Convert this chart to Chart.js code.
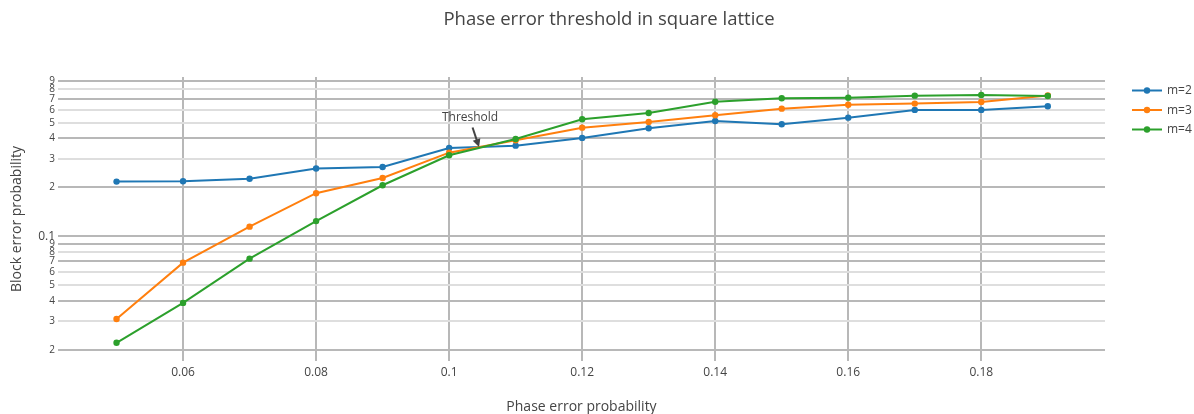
<!DOCTYPE html>
<html>
<head>
<meta charset="utf-8">
<script src="https://cdn.jsdelivr.net/npm/chart.js@4/dist/chart.umd.min.js"></script>
<style>
html,body{margin:0;padding:0;background:#fff;}
canvas{display:block;}
</style>
</head>
<body>
<canvas id="c" width="1194" height="414"></canvas>
<script>
// ---- data ----
const categories = [0.05,0.06,0.07,0.08,0.09,0.10,0.11,0.12,0.13,0.14,0.15,0.16,0.17,0.18,0.19];
const seriesNames = ['m=2','m=3','m=4'];
const m2 = [0.217,0.218,0.226,0.261,0.267,0.349,0.361,0.403,0.462,0.512,0.489,0.537,0.599,0.599,0.631];
const m3 = [0.0310,0.0688,0.1146,0.184,0.2285,0.327,0.390,0.466,0.505,0.556,0.610,0.645,0.655,0.671,0.735];
const m4 = [0.0221,0.0389,0.0728,0.124,0.206,0.315,0.397,0.525,0.574,0.672,0.707,0.713,0.733,0.741,0.730];
const xTicks = [0.06,0.08,0.10,0.12,0.14,0.16,0.18];
const yTicks = [0.02,0.03,0.04,0.05,0.06,0.07,0.08,0.09,0.1,0.2,0.3,0.4,0.5,0.6,0.7,0.8,0.9];
const yTickLabels = ['2','3','4','5','6','7','8','9','0.1','2','3','4','5','6','7','8','9'];
const titleText = 'Phase error threshold in square lattice';
const xTitle = 'Phase error probability';
const yTitle = 'Block error probability';
const annotationText = 'Threshold';
const annotationPoint = {x: 0.1045, y: 0.354};

const XMIN = 0.0412, XMAX = 0.1986;
const YMIN = 0.01708, YMAX = 0.955;

const colors = ['#1f77b4','#ff7f0e','#2ca02c'];
const FONT = '"Open Sans", "DejaVu Sans", sans-serif';
const darkGrid = new Set([0.02,0.04,0.07,0.09,0.1,0.2,0.4,0.7,0.9]);

const allSeries = [m2, m3, m4];
const datasets = allSeries.map((s, i) => ({
  label: seriesNames[i],
  data: categories.map((x, j) => ({x: x, y: s[j]})),
  borderColor: colors[i],
  backgroundColor: colors[i],
  borderWidth: 2,
  pointRadius: 3.2,
  pointHoverRadius: 3.2,
  pointBorderWidth: 0,
  tension: 0,
  order: 3 - i
}));

const overlay = {
  id: 'overlay',
  afterDraw(chart) {
    const ctx = chart.ctx;
    const ca = chart.chartArea;
    const xs = chart.scales.x, ys = chart.scales.y;
    ctx.save();
    // title
    ctx.fillStyle = '#444';
    ctx.font = '18.5px ' + FONT;
    ctx.textAlign = 'center';
    ctx.textBaseline = 'middle';
    ctx.fillText(titleText, 609, 20);
    // x title
    ctx.font = '14px ' + FONT;
    ctx.fillText(xTitle, (ca.left + ca.right) / 2, 407);
    // y title
    ctx.save();
    ctx.translate(17, (ca.top + ca.bottom) / 2);
    ctx.rotate(-Math.PI / 2);
    ctx.fillText(yTitle, 0, 0);
    ctx.restore();
    // legend
    ctx.font = '12px ' + FONT;
    ctx.textAlign = 'left';
    seriesNames.forEach((n, i) => {
      const y = 90.5 + i * 19.5;
      ctx.strokeStyle = colors[i];
      ctx.lineWidth = 2;
      ctx.beginPath();
      ctx.moveTo(1132, y);
      ctx.lineTo(1162, y);
      ctx.stroke();
      ctx.fillStyle = colors[i];
      ctx.beginPath();
      ctx.arc(1147, y, 3.2, 0, Math.PI * 2);
      ctx.fill();
      ctx.fillStyle = '#444';
      ctx.fillText(n, 1167, y + 0.5);
    });
    // annotation
    const hx = xs.getPixelForValue(annotationPoint.x);
    const hy = ys.getPixelForValue(annotationPoint.y);
    const tx = hx - 6.5, ty = hy - 19.5;
    ctx.fillStyle = '#444';
    ctx.textAlign = 'center';
    ctx.font = '12px ' + FONT;
    ctx.fillText(annotationText, hx - 9, hy - 29);
    const ang = Math.atan2(hy - ty, hx - tx);
    const L = 8, W = 4;
    const bx = hx - L * Math.cos(ang), by = hy - L * Math.sin(ang);
    ctx.strokeStyle = '#444';
    ctx.lineWidth = 2;
    ctx.beginPath();
    ctx.moveTo(tx, ty);
    ctx.lineTo(bx + 2 * Math.cos(ang), by + 2 * Math.sin(ang));
    ctx.stroke();
    ctx.beginPath();
    ctx.moveTo(hx, hy);
    ctx.lineTo(bx + W * Math.sin(ang), by - W * Math.cos(ang));
    ctx.lineTo(bx - W * Math.sin(ang), by + W * Math.cos(ang));
    ctx.closePath();
    ctx.fill();
    ctx.restore();
  }
};

new Chart(document.getElementById('c'), {
  type: 'line',
  data: {datasets: datasets},
  options: {
    responsive: false,
    animation: false,
    devicePixelRatio: 1,
    layout: {padding: {left: 0, top: 77, right: 89, bottom: 0}},
    plugins: {legend: {display: false}, title: {display: false}, tooltip: {enabled: false}},
    scales: {
      x: {
        type: 'linear',
        min: XMIN,
        max: XMAX,
        afterBuildTicks: s => { s.ticks = xTicks.map(v => ({value: v})); },
        afterFit: s => { s.height = 53; },
        grid: {color: '#b8b8b8', lineWidth: 2, drawTicks: false},
        border: {display: false},
        ticks: {
          autoSkip: false,
          maxRotation: 0,
          padding: 4,
          color: '#444',
          font: {family: FONT, size: 12},
          callback: v => String(+Number(v).toFixed(2))
        }
      },
      y: {
        type: 'logarithmic',
        min: YMIN,
        max: YMAX,
        afterBuildTicks: s => { s.ticks = yTicks.map(v => ({value: v})); },
        afterFit: s => { s.width = 58; },
        grid: {
          color: c => (c.tick && darkGrid.has(c.tick.value)) ? '#b8b8b8' : '#dedede',
          lineWidth: 2,
          drawTicks: false
        },
        border: {display: false},
        ticks: {
          autoSkip: false,
          padding: 3,
          color: '#444',
          font: c => ({family: FONT, size: (c.tick && c.tick.value === 0.1) ? 12 : 10}),
          callback: (v, i) => yTickLabels[i]
        }
      }
    }
  },
  plugins: [overlay]
});
</script>
</body>
</html>
